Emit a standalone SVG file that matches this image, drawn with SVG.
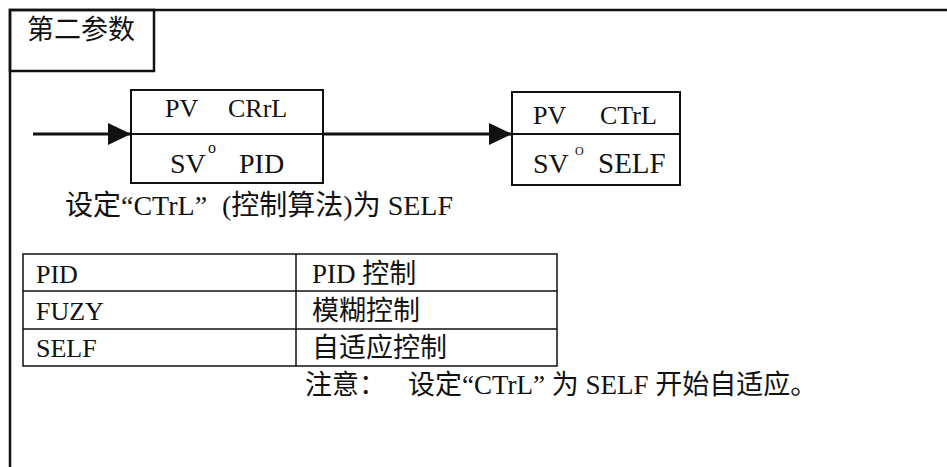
<svg xmlns="http://www.w3.org/2000/svg" width="947" height="467" viewBox="0 0 947 467">
  <style>
    text { font-family: "Liberation Serif", "Noto Sans CJK SC", serif; fill: #111; }
    .frame { fill: none; stroke: #111; stroke-width: 2.5; }
    .box { fill: #fff; stroke: #111; stroke-width: 2; }
    .cell { fill: none; stroke: #111; stroke-width: 1.5; }
    .conn { fill: none; stroke: #111; stroke-width: 3; }
  </style>
  <defs>
    <marker id="arrow" markerUnits="userSpaceOnUse" markerWidth="24" markerHeight="22" refX="23" refY="11" orient="auto">
      <polygon points="0,0 23,11 0,22" fill="#111"/>
    </marker>
  </defs>
  <rect width="947" height="467" fill="#fff"/>

  <g id="frame">
    <polyline class="frame" points="10,467 10,10 947,10"/>
  </g>

  <g id="title">
    <rect class="frame" x="10" y="10" width="144" height="61"/>
    <text x="27" y="39" font-size="27">第二参数</text>
  </g>

  <g id="connectors">
    <line class="conn" x1="33" y1="134" x2="131" y2="134" marker-end="url(#arrow)"/>
    <line class="conn" x1="323" y1="134" x2="512" y2="134" marker-end="url(#arrow)"/>
  </g>

  <g id="box1">
    <rect class="box" x="131" y="90" width="192" height="93"/>
    <line class="box" x1="131" y1="134" x2="323" y2="134"/>
    <text x="165" y="117" font-size="26">PV</text>
    <text x="228" y="117" font-size="26">CRrL</text>
    <text x="170" y="173" font-size="28">SV</text>
    <text x="208" y="153" font-size="16">o</text>
    <text x="239" y="173" font-size="28">PID</text>
  </g>

  <g id="box2">
    <rect class="box" x="512" y="92" width="168" height="93"/>
    <line class="box" x1="512" y1="134" x2="680" y2="134"/>
    <text x="533" y="124" font-size="26">PV</text>
    <text x="600" y="124" font-size="26">CTrL</text>
    <text x="533" y="173" font-size="28">SV</text>
    <text x="575" y="155" font-size="12">O</text>
    <text x="598" y="173" font-size="29">SELF</text>
  </g>

  <g id="caption">
    <text y="215" font-size="28"><tspan x="65">设定“CTrL”</tspan><tspan x="222">(控制算法)为 SELF</tspan></text>
  </g>

  <g id="table">
    <rect class="cell" x="23" y="254" width="534" height="112"/>
    <line class="cell" x1="296" y1="254" x2="296" y2="366"/>
    <line class="cell" x1="23" y1="291" x2="557" y2="291"/>
    <line class="cell" x1="23" y1="329" x2="557" y2="329"/>
    <text x="36" y="283" font-size="26">PID</text>
    <text x="36" y="320" font-size="26">FUZY</text>
    <text x="36" y="357" font-size="26">SELF</text>
    <text x="312" y="283" font-size="27">PID 控制</text>
    <text x="312" y="320" font-size="27">模糊控制</text>
    <text x="312" y="357" font-size="27">自适应控制</text>
  </g>

  <g id="note">
    <text x="305" y="394" font-size="27">注意：</text>
    <text x="408" y="394" font-size="27">设定“CTrL” 为 SELF 开始自适应。</text>
  </g>
</svg>
